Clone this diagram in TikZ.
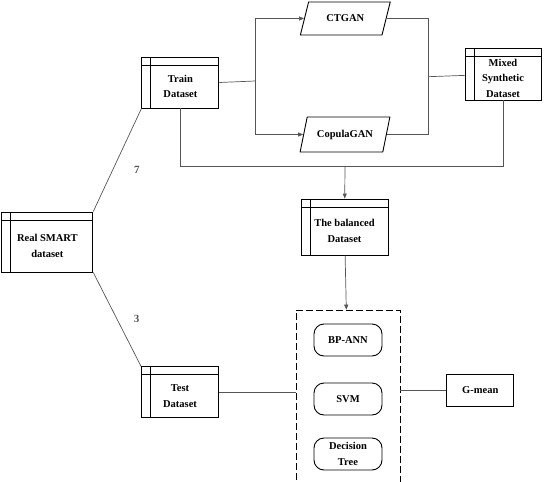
\documentclass[tikz,border=0pt]{standalone}
\usepackage{fontspec}
\setmainfont{Liberation Serif}
\usetikzlibrary{shapes.geometric,arrows.meta,positioning,calc}
\definecolor{linegrey}{RGB}{85,85,85}

\begin{document}
\begin{tikzpicture}[x=1pt, y=-1pt,
    txt/.style={font=\bfseries\fontsize{10.5}{15.5}\selectfont, align=center},
    dbox/.style={rectangle, draw=black, line width=0.9pt,
        minimum width=77pt, minimum height=51pt,
        label={[txt, yshift=-4pt]center:#1},
        path picture={
            \draw[line width=0.9pt] ([xshift=9pt]path picture bounding box.north west) -- ([xshift=9pt]path picture bounding box.south west);
            \draw[line width=0.9pt] ([yshift=-8pt]path picture bounding box.north west) -- ([yshift=-8pt]path picture bounding box.north east);
        }},
    gan/.style={trapezium, trapezium left angle=70, trapezium right angle=110,
        trapezium stretches=true, draw=black, line width=0.9pt,
        minimum width=90pt, minimum height=33pt, txt},
    clf/.style={rectangle, rounded corners=10pt, draw=black, line width=0.9pt,
        minimum width=68pt, minimum height=32pt, txt},
    ln/.style={linegrey, line width=0.7pt},
    arr/.style={-{Triangle[length=5pt, width=4pt]}, linegrey, line width=0.7pt}
]
    \useasboundingbox (0,0) rectangle (544,482);

    % datasets
    \node[dbox={Real SMART\\dataset}, minimum width=91pt, minimum height=60pt] (real) at (47.3,242) {};
    \node[dbox={Train\\Dataset}] (train) at (180.4,82.5) {};
    \node[dbox={Test\\Dataset}] (test) at (180,392.3) {};
    \node[dbox={Mixed\\Synthetic\\Dataset}, minimum width=76pt, minimum height=52pt] (mixed) at (503,74) {};
    \node[dbox={The balanced\\Dataset}, minimum width=87pt, minimum height=56pt] (balanced) at (344.5,227) {};

    % generators
    \node[gan] (ctgan) at (345.3,18.5) {CTGAN};
    \node[gan, minimum height=35pt] (copula) at (345,134.5) {CopulaGAN};

    % classifiers
    \node[draw=black, line width=0.7pt, dash pattern=on 7pt off 3pt,
        minimum width=103.3pt, minimum height=180pt] (models) at (348.3,400) {};
    \node[clf] (bpann) at (348,340) {BP-ANN};
    \node[clf] (svm) at (348,399) {SVM};
    \node[clf] (tree) at (348,454) {Decision\\Tree};
    \node[rectangle, draw=black, line width=0.9pt, minimum width=67pt,
        minimum height=32pt, txt] (gmean) at (480.3,390) {G-mean};

    \coordinate (split) at (255,81);
    \coordinate (merge) at (428,76.7);
    \coordinate (join) at (345,166);

    % split of the real data
    \draw[ln] (real.north east) -- (train.south west)
        node[pos=0.4, right=18pt, txt, font=\bfseries\fontsize{11}{13}\selectfont] (seven) {7};
    \draw[ln] (real.south east) -- (test.north west)
        node[midway, right=13pt, txt, font=\bfseries\fontsize{11}{13}\selectfont] (three) {3};

    \draw[ln] (train.east) -- (split);
    \draw[arr] (split) |- (ctgan);
    \draw[arr] (split) |- (copula);
    \draw[ln] (ctgan) -| (merge);
    \draw[ln] (copula) -| (merge);
    \draw[ln] (merge) -- (mixed);

    \draw[ln] (train.south) |- (join);
    \draw[ln] (mixed.south) |- (join);
    \draw[arr] (join) -- (balanced);
    \draw[arr] (balanced) -- (models);

    \draw[ln] (test.east) -- (test.east -| models.west);
    \draw[ln] (gmean.west -| models.east) -- (gmean.west);
\end{tikzpicture}
\end{document}
